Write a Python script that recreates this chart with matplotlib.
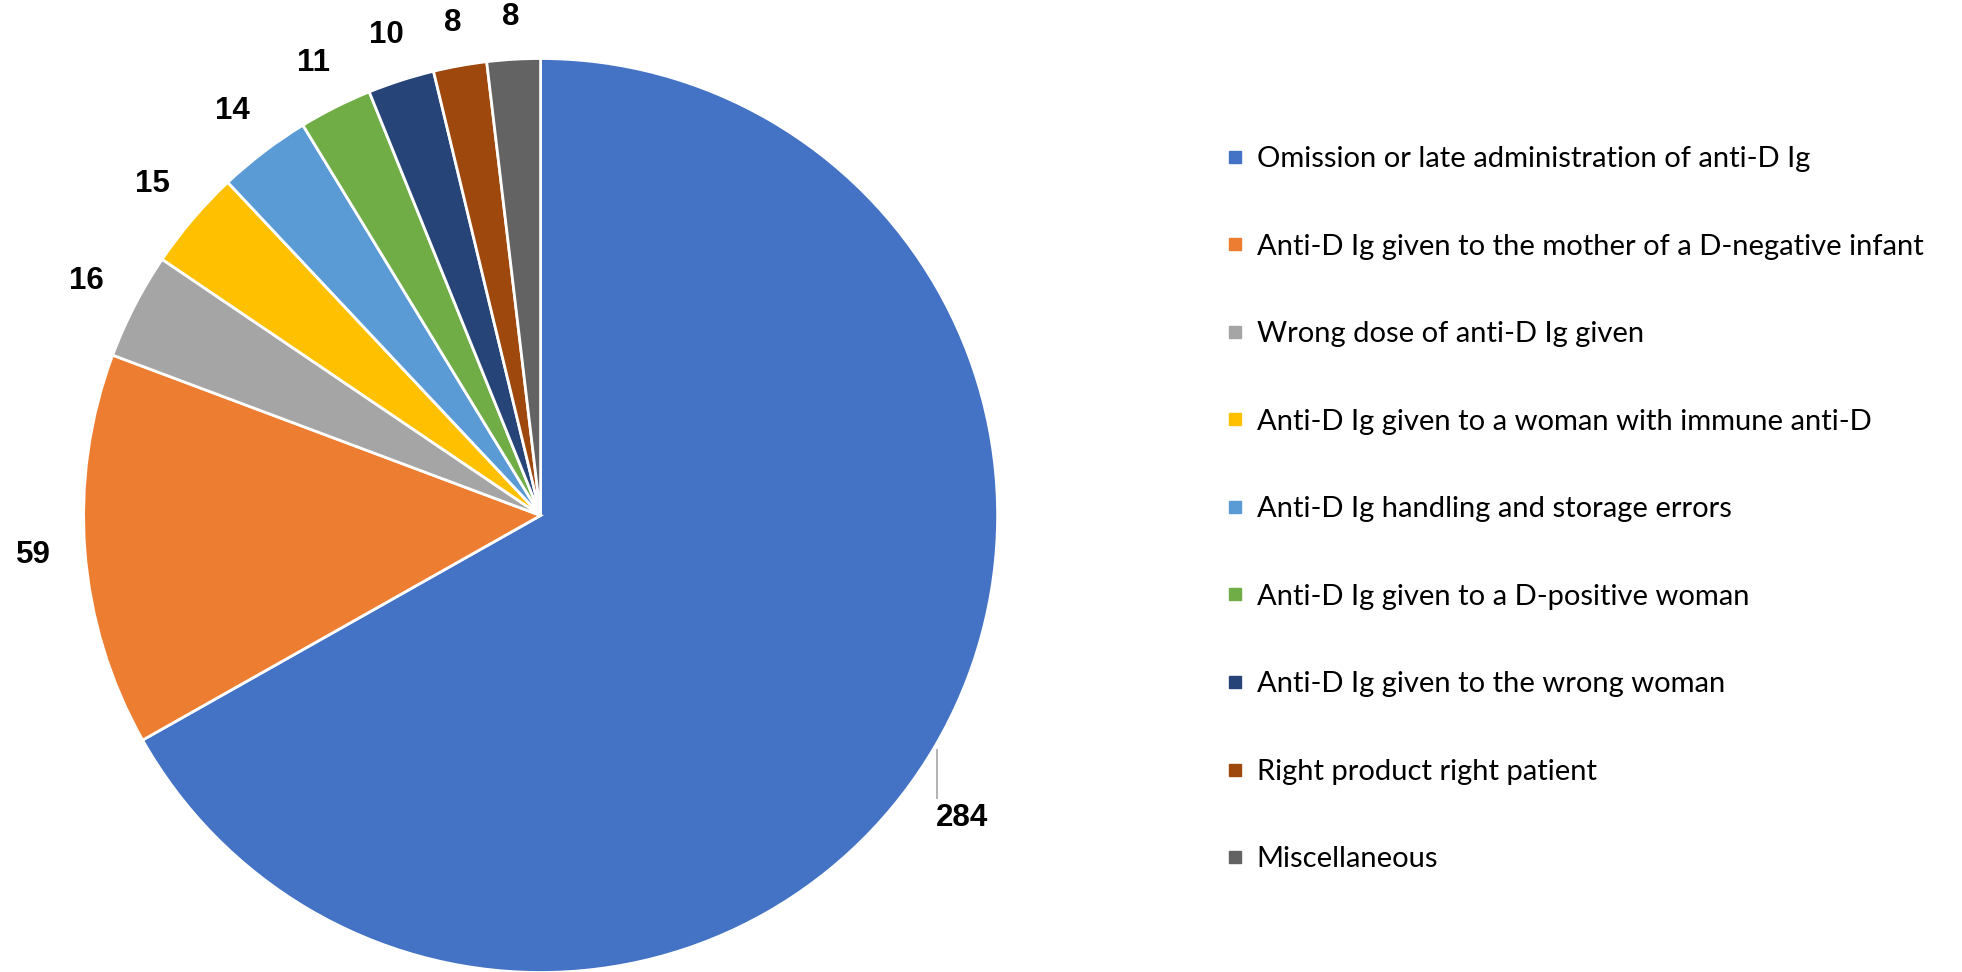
import matplotlib
matplotlib.use("Agg")
import matplotlib.pyplot as plt
from matplotlib.lines import Line2D
import numpy as np

categories = [
    "Omission or late administration of anti-D Ig",
    "Anti-D Ig given to the mother of a D-negative infant",
    "Wrong dose of anti-D Ig given",
    "Anti-D Ig given to a woman with immune anti-D",
    "Anti-D Ig handling and storage errors",
    "Anti-D Ig given to a D-positive woman",
    "Anti-D Ig given to the wrong woman",
    "Right product right patient",
    "Miscellaneous",
]
counts = [284, 59, 16, 15, 14, 11, 10, 8, 8]
colors = ["#4472C4", "#ED7D31", "#A5A5A5", "#FFC000", "#5B9BD5",
          "#70AD47", "#264478", "#9E480E", "#636363"]

W, H = 1962, 972
fig = plt.figure(figsize=(W / 100, H / 100), dpi=100)

# pie axes: centre and radius in pixels
cx, cy, r = 540.6, 515.5, 457.0
ax = fig.add_axes([(cx - r) / W, (H - cy - r) / H, 2 * r / W, 2 * r / H])

wedges, _ = ax.pie(counts, colors=colors, startangle=90, counterclock=False,
                   radius=1.0, center=(0, 0), frame=False,
                   wedgeprops=dict(edgecolor="white", linewidth=2.0))
ax.set_xlim(-1, 1)
ax.set_ylim(-1, 1)
ax.set_aspect("auto")
ax.axis("off")

label_font = dict(family="Liberation Sans", weight="bold", size=22.5, color="black")
px = 1.0 / r  # one pixel in data units
for i, (w, v) in enumerate(zip(wedges, counts)):
    mid = np.deg2rad((w.theta1 + w.theta2) / 2)
    c, s = np.cos(mid), np.sin(mid)
    if i == 0:
        ax.plot([c + 1.5 * px] * 2, [s - 3 * px, s - 53 * px], color="#A6A6A6",
                lw=1.2, solid_capstyle="butt")
        ax.text(c + 0.5 * px, s - 57 * px, str(v), ha="left", va="top", **label_font)
    else:
        # push the label out so its box clears the rim
        half_w = 10.5 * len(str(v))
        half_h = 11.5
        d = 1.0 + (30 + abs(c) * half_w + abs(s) * half_h) * px
        ax.text(d * c, d * s, str(v), ha="center", va="center", **label_font)

handles = [Line2D([0], [0], marker="s", linestyle="none", markersize=8,
                  markerfacecolor=c, markeredgecolor=c) for c in colors]
fig.legend(handles, categories, loc="upper left",
           bbox_to_anchor=(1226 / W, 1 - 146 / H), frameon=False,
           prop=dict(family="Lato", size=21), handlelength=0.6,
           handletextpad=0.45, labelspacing=2.11, borderpad=0, borderaxespad=0)

fig.savefig("out.png", dpi=100, facecolor="white")
